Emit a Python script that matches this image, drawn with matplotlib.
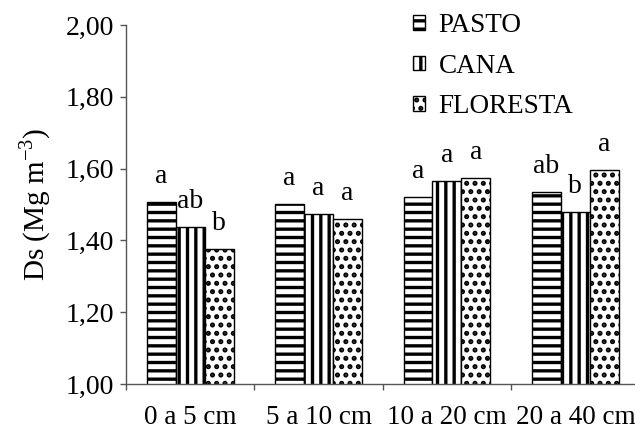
import matplotlib
matplotlib.use('Agg')
import matplotlib.pyplot as plt
import numpy as np

plt.rcParams['font.family'] = 'Liberation Serif'
plt.rcParams['mathtext.fontset'] = 'custom'
plt.rcParams['mathtext.rm'] = 'Liberation Serif'
plt.rcParams['hatch.linewidth'] = 2.4

# data
categories = ['0 a 5 cm', '5 a 10 cm', '10 a 20 cm', '20 a 40 cm']
pasto = [1.508, 1.501, 1.520, 1.536]
cana = [1.436, 1.473, 1.565, 1.478]
floresta = [1.376, 1.459, 1.574, 1.596]
pasto_letters = ['a', 'a', 'a', 'ab']
cana_letters = ['ab', 'a', 'a', 'b']
floresta_letters = ['b', 'a', 'a', 'a']
yticks = [1.0, 1.2, 1.4, 1.6, 1.8, 2.0]
ytick_labels = ['1,00', '1,20', '1,40', '1,60', '1,80', '2,00']

fig = plt.figure(figsize=(6.35, 4.34), dpi=100)
ax = fig.add_axes([0.1984, 0.1152, 0.8087, 0.8272])

x = np.arange(len(categories))
w = 0.225
series = [
    (pasto, 'PASTO', '--', pasto_letters),
    (cana, 'CANA', '||', cana_letters),
    (floresta, 'FLORESTA', '..', floresta_letters),
]
for i, (vals, label, hatch, letters) in enumerate(series):
    pos = x + (i - 1) * w
    ax.bar(pos, vals, w, color='white', edgecolor='black', linewidth=1.0,
           hatch=hatch, label=label)
    for p, v, t in zip(pos, vals, letters):
        ax.annotate(t, (p, v), xytext=(0, 13.7), textcoords='offset points',
                    ha='center', va='baseline', fontsize=20)

ax.set_xlim(-0.5, 3.5)
ax.set_ylim(1.0, 2.0)
ax.set_yticks(yticks)
ax.set_yticklabels(ytick_labels, fontsize=20)
ax.set_xticks(x)
ax.set_xticklabels(categories, fontsize=19.5)
ax.set_xticks(np.arange(-0.5, 4.0, 1.0), minor=True)
ax.tick_params(axis='x', which='major', length=0, pad=15)
ax.tick_params(axis='x', which='minor', length=4.3, width=1, color='#555555')
ax.tick_params(axis='y', length=4.3, width=1, color='#555555', pad=4)
ax.set_ylabel('Ds (Mg m$^{-3}$)', fontsize=21, labelpad=9)

for s in ['top', 'right']:
    ax.spines[s].set_visible(False)
for s in ['left', 'bottom']:
    ax.spines[s].set_color('#555555')
    ax.spines[s].set_linewidth(1)

ax.legend(loc='upper left', bbox_to_anchor=(413 / 635, 1 - 13 / 434),
          bbox_transform=fig.transFigure, frameon=False, borderpad=0,
          borderaxespad=0, handlelength=0.45, handleheight=0.45,
          handletextpad=0.5, labelspacing=0.58, fontsize=19.5)

fig.savefig('out.png', dpi=100)
